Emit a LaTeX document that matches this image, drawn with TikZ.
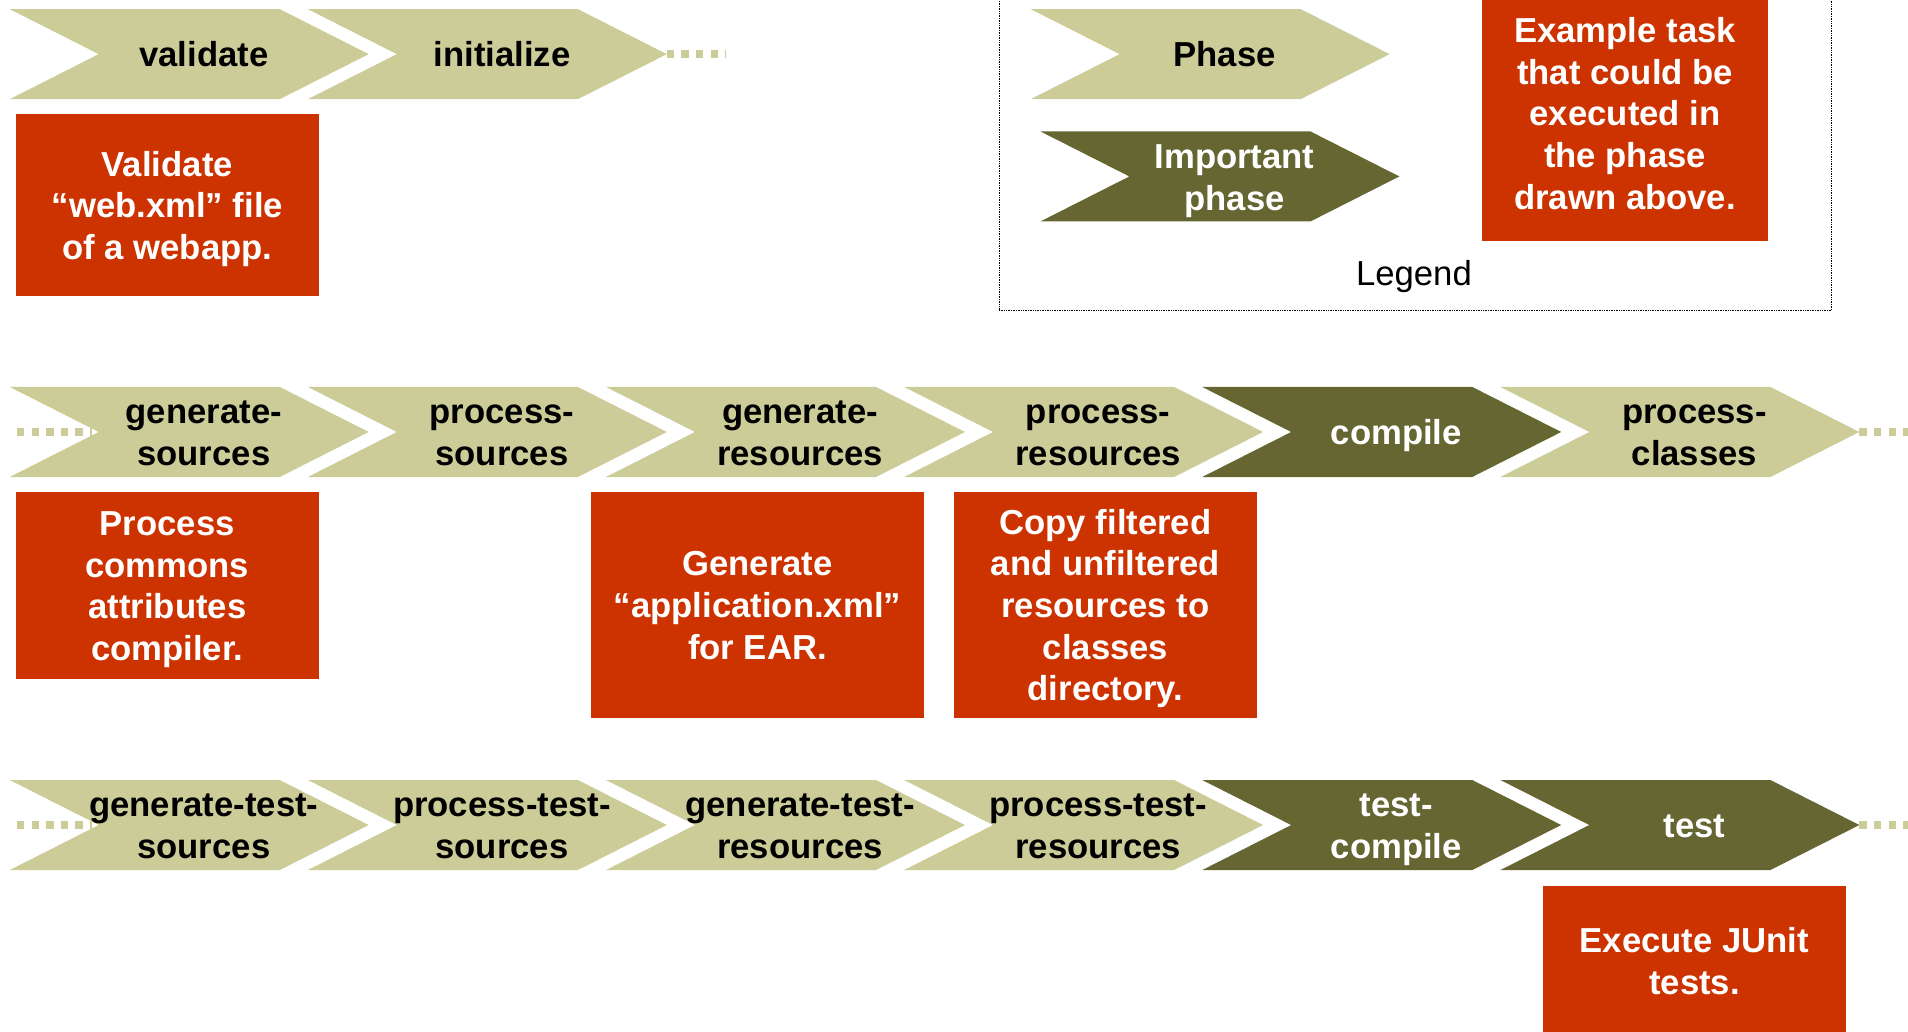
\documentclass[tikz,border=0pt]{standalone}
\usepackage{fontspec}
\setmainfont{Liberation Sans}
\usepackage{xcolor}
\definecolor{phasegreen}{RGB}{204,204,153}
\definecolor{importantgreen}{RGB}{102,102,51}
\definecolor{taskred}{RGB}{204,51,0}
\usepackage{tikz}
\usetikzlibrary{shapes.symbols}
\newcommand{\phstrut}{\rule[-6.5pt]{0pt}{34pt}}
\tikzset{
  chevron/.style={shape=signal,signal from=west,signal to=east,signal pointer angle=53.7,minimum width=295pt,minimum height=74pt,inner sep=0pt,outer sep=0pt},
  phasetext/.style={font=\bfseries\fontsize{28.5}{34.2}\selectfont,align=center,inner sep=0pt},
  taskbox/.style={rectangle,fill=taskred,inner sep=0pt,outer sep=0pt,text=white,font=\bfseries\fontsize{28.5}{34.2}\selectfont,align=center},
  dotline/.style={draw=phasegreen,line width=6pt,dash pattern=on 6pt off 6pt}
}

\begin{document}
\begin{tikzpicture}[x=1pt,y=-1pt]
\useasboundingbox (0,0) rectangle (1568,848);

%legend
\node (legendbox) at (1163,125) [draw,densely dotted,minimum width=684pt,minimum height=260pt] {};
\node (keyphase) at (994.5,44.5) [chevron,fill=phasegreen] {};
\node (keyphase-t) at ([xshift=12pt]keyphase.center) [phasetext] {\phstrut Phase\phstrut};
\node (keyimp) at (1002.5,145) [chevron,fill=importantgreen] {};
\node (keyimp-t) at ([xshift=12pt]keyimp.center) [phasetext,text=white] {\phstrut Important\\phase\phstrut};
\node (keytask) at (1335.5,93) [taskbox,minimum width=235pt,minimum height=210pt] {\phstrut Example task\\that could be\\executed in\\the phase\\drawn above.\phstrut};
\node (legend) at (1162,224) [font=\fontsize{28.5}{34.2}\selectfont,inner sep=0pt] {\phstrut Legend};

%first row
\foreach \x/\n/\t in {8/validate/validate,253/initialize/initialize}{
  \node (\n) at (\x+147.5,44.5) [chevron,fill=phasegreen] {};
  \node (\n-t) at ([xshift=12pt]\n.center) [phasetext] {\phstrut\t\phstrut};
}
\coordinate (row1end) at (597,44.5);
\draw [dotline] (initialize.east) -- (row1end);

%second row
\foreach \x/\n/\t/\c/\tc in {8/gensrc/{generate-\\sources}/phasegreen/black,
    253/procsrc/{process-\\sources}/phasegreen/black,
    498/genres/{generate-\\resources}/phasegreen/black,
    743/procres/{process-\\resources}/phasegreen/black,
    988/compile/compile/importantgreen/white,
    1233/proccls/{process-\\classes}/phasegreen/black}{
  \node (\n) at (\x+147.5,355) [chevron,fill=\c] {};
  \node (\n-t) at ([xshift=12pt]\n.center) [phasetext,text=\tc] {\phstrut\t\phstrut};
}
\coordinate (row2start) at (14,355);
\coordinate (row2notch) at (76,355);
\coordinate (row2end) at (1568,355);
\draw [dotline] (row2start) -- (row2notch);
\draw [dotline] (proccls.east) -- (row2end);

%third row
\foreach \x/\n/\c in {8/gentsrc/phasegreen,253/proctsrc/phasegreen,498/gentres/phasegreen,
    743/proctres/phasegreen,988/tcompile/importantgreen,1233/test/importantgreen}{
  \node (\n) at (\x+147.5,678) [chevron,fill=\c] {};
}
\coordinate (row3start) at (14,678);
\coordinate (row3notch) at (76,678);
\coordinate (row3end) at (1568,678);
\draw [dotline] (row3start) -- (row3notch);
\draw [dotline] (test.east) -- (row3end);
\foreach \n/\t/\tc in {gentsrc/{generate-test-\\sources}/black,
    proctsrc/{process-test-\\sources}/black,
    gentres/{generate-test-\\resources}/black,
    proctres/{process-test-\\resources}/black,
    tcompile/{test-\\compile}/white,
    test/test/white}{
  \node (\n-t) at ([xshift=12pt]\n.center) [phasetext,text=\tc] {\phstrut\t\phstrut};
}

%tasks
\node (valtask) at (137.5,168.5) [taskbox,minimum width=249pt,minimum height=149pt] {\phstrut Validate\\“web.xml” file\\of a webapp.\phstrut};
\node (gensrctask) at (137.5,481) [taskbox,minimum width=249pt,minimum height=154pt] {\phstrut Process\\commons\\attributes\\compiler.\phstrut};
\node (genrestask) at (622.5,497) [taskbox,minimum width=273pt,minimum height=186pt] {\phstrut Generate\\“application.xml”\\for EAR.\phstrut};
\node (procrestask) at (908.5,497) [taskbox,minimum width=249pt,minimum height=186pt] {\phstrut Copy filtered\\and unfiltered\\resources to\\classes\\directory.\phstrut};
\node (testtask) at (1392.5,789.5) [taskbox,minimum width=249pt,minimum height=123pt] {\phstrut Execute JUnit\\tests.\phstrut};

\end{tikzpicture}
\end{document}
